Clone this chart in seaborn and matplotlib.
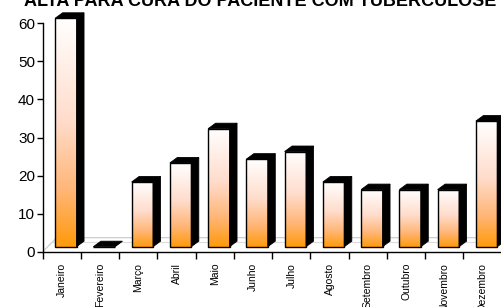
import numpy as np
import pandas as pd
import matplotlib
matplotlib.use('Agg')
import matplotlib.pyplot as plt
import seaborn as sns
from matplotlib.patches import Polygon
from matplotlib.lines import Line2D
from matplotlib.colors import LinearSegmentedColormap
from matplotlib.transforms import ScaledTranslation

# ---- data ----
meses = ['Janeiro', 'Fevereiro', 'Março', 'Abril', 'Maio', 'Junho', 'Julho',
         'Agosto', 'Setembro', 'Outubro', 'Novembro', 'Dezembro']
valores = [60, 0, 17, 22, 31, 23, 25, 17, 15, 15, 15, 33]
titulo = 'ALTA PARA CURA DO PACIENTE COM TUBERCULOSE'
yticks = [0, 10, 20, 30, 40, 50, 60]

sns.set_theme(style='white')
plt.rcParams['font.family'] = ['Liberation Sans', 'DejaVu Sans']

DPI = 100
fig = plt.figure(figsize=(5.02, 3.07), dpi=DPI)
ax = fig.add_axes([42.7 / 502, 55.3 / 307, 459 / 502, 228.4 / 307])

df = pd.DataFrame({'mes': meses, 'valor': valores})
sns.barplot(data=df, x='mes', y='valor', ax=ax, width=0.56, color='white',
            saturation=1, edgecolor='black', linewidth=1.0, zorder=3)
ax.set_xlim(-0.5, 11.5)
ax.set_ylim(0, 60)

# pixel helpers
FX, FY = 4, 5        # front face shift (px)
DX, DY = 7.5, 5.5    # bar depth (px)
p0 = ax.transData.transform((0, 0))
pxx = ax.transData.transform((1, 0))[0] - p0[0]
pxy = ax.transData.transform((0, 1))[1] - p0[1]
shift = ax.transData + ScaledTranslation(FX / DPI, FY / DPI, fig.dpi_scale_trans)
ddx, ddy = DX / pxx, DY / pxy

# floor (light grey)
fl_dx, fl_dy = 14 / pxx, 14 / pxy
ax.add_line(Line2D([-0.5, -0.5 + fl_dx, 11.5], [0, fl_dy, fl_dy], color='#c8c8c8',
                   lw=0.8, zorder=1, clip_on=False))
ax.add_line(Line2D([-0.5 + fl_dx * 0.7, 11.5], [fl_dy * 0.7, fl_dy * 0.7], color='#dcdcdc',
                   lw=0.8, zorder=1, clip_on=False))

cmap = LinearSegmentedColormap.from_list(
    'g', [(0, '#FF9A0A'), (0.25, '#FFB677'), (0.55, '#FFDCCB'), (1, '#FFFFFF')])
grad = np.linspace(0, 1, 256).reshape(-1, 1)

for p in list(ax.patches):
    x0, w, h = p.get_x(), p.get_width(), p.get_height()
    x1 = x0 + w
    p.set_transform(shift)
    p.set_facecolor('none')
    p.set_clip_on(False)
    if h > 0:
        im = ax.imshow(grad, extent=[x0, x1, 0, h], origin='lower', cmap=cmap,
                       aspect='auto', zorder=2, interpolation='bilinear')
        im.set_transform(shift)
        im.set_clip_on(False)
    side = Polygon([(x1, 0), (x1 + ddx, ddy), (x1 + ddx, h + ddy), (x1, h)],
                   closed=True, facecolor='black', edgecolor='black', lw=0.6,
                   transform=shift, zorder=3, clip_on=False)
    top = Polygon([(x0, h), (x0 + ddx, h + ddy), (x1 + ddx, h + ddy), (x1, h)],
                  closed=True, facecolor='black', edgecolor='black', lw=0.6,
                  transform=shift, zorder=3, clip_on=False)
    ax.add_patch(side)
    ax.add_patch(top)

ax.set_xlim(-0.5, 11.5)
ax.set_ylim(0, 60)

# axes styling
for s in ['top', 'right']:
    ax.spines[s].set_visible(False)
for s in ['left', 'bottom']:
    ax.spines[s].set_color('black')
    ax.spines[s].set_linewidth(1.0)
    ax.spines[s].set_zorder(5)

ax.set_yticks(yticks)
ax.set_yticklabels([str(v) for v in yticks], fontsize=11)
ax.tick_params(axis='y', which='major', left=True, length=4, width=1, color='black',
               direction='out', pad=1.5, labelcolor='black')

ax.set_xticks(np.arange(-0.5, 12, 1))
ax.set_xticklabels([])
ax.set_xticks(np.arange(12), minor=True)
ax.set_xticklabels(meses, minor=True, rotation=90, fontsize=7.5)
ax.tick_params(axis='x', which='major', bottom=True, length=5, width=1, color='black',
               direction='out')
ax.tick_params(axis='x', which='minor', bottom=True, length=0, pad=8, labelcolor='black')
for lab in ax.get_xticklabels(minor=True):
    lab.set_va('top')
    lab.set_ha('center')

ax.set_xlabel('')
ax.set_ylabel('')

fig.text(0.518, 1 - 6.5 / 307, titulo, ha='center', va='baseline',
         fontsize=13, fontweight='bold', color='black')

fig.savefig('out.png', dpi=DPI)
